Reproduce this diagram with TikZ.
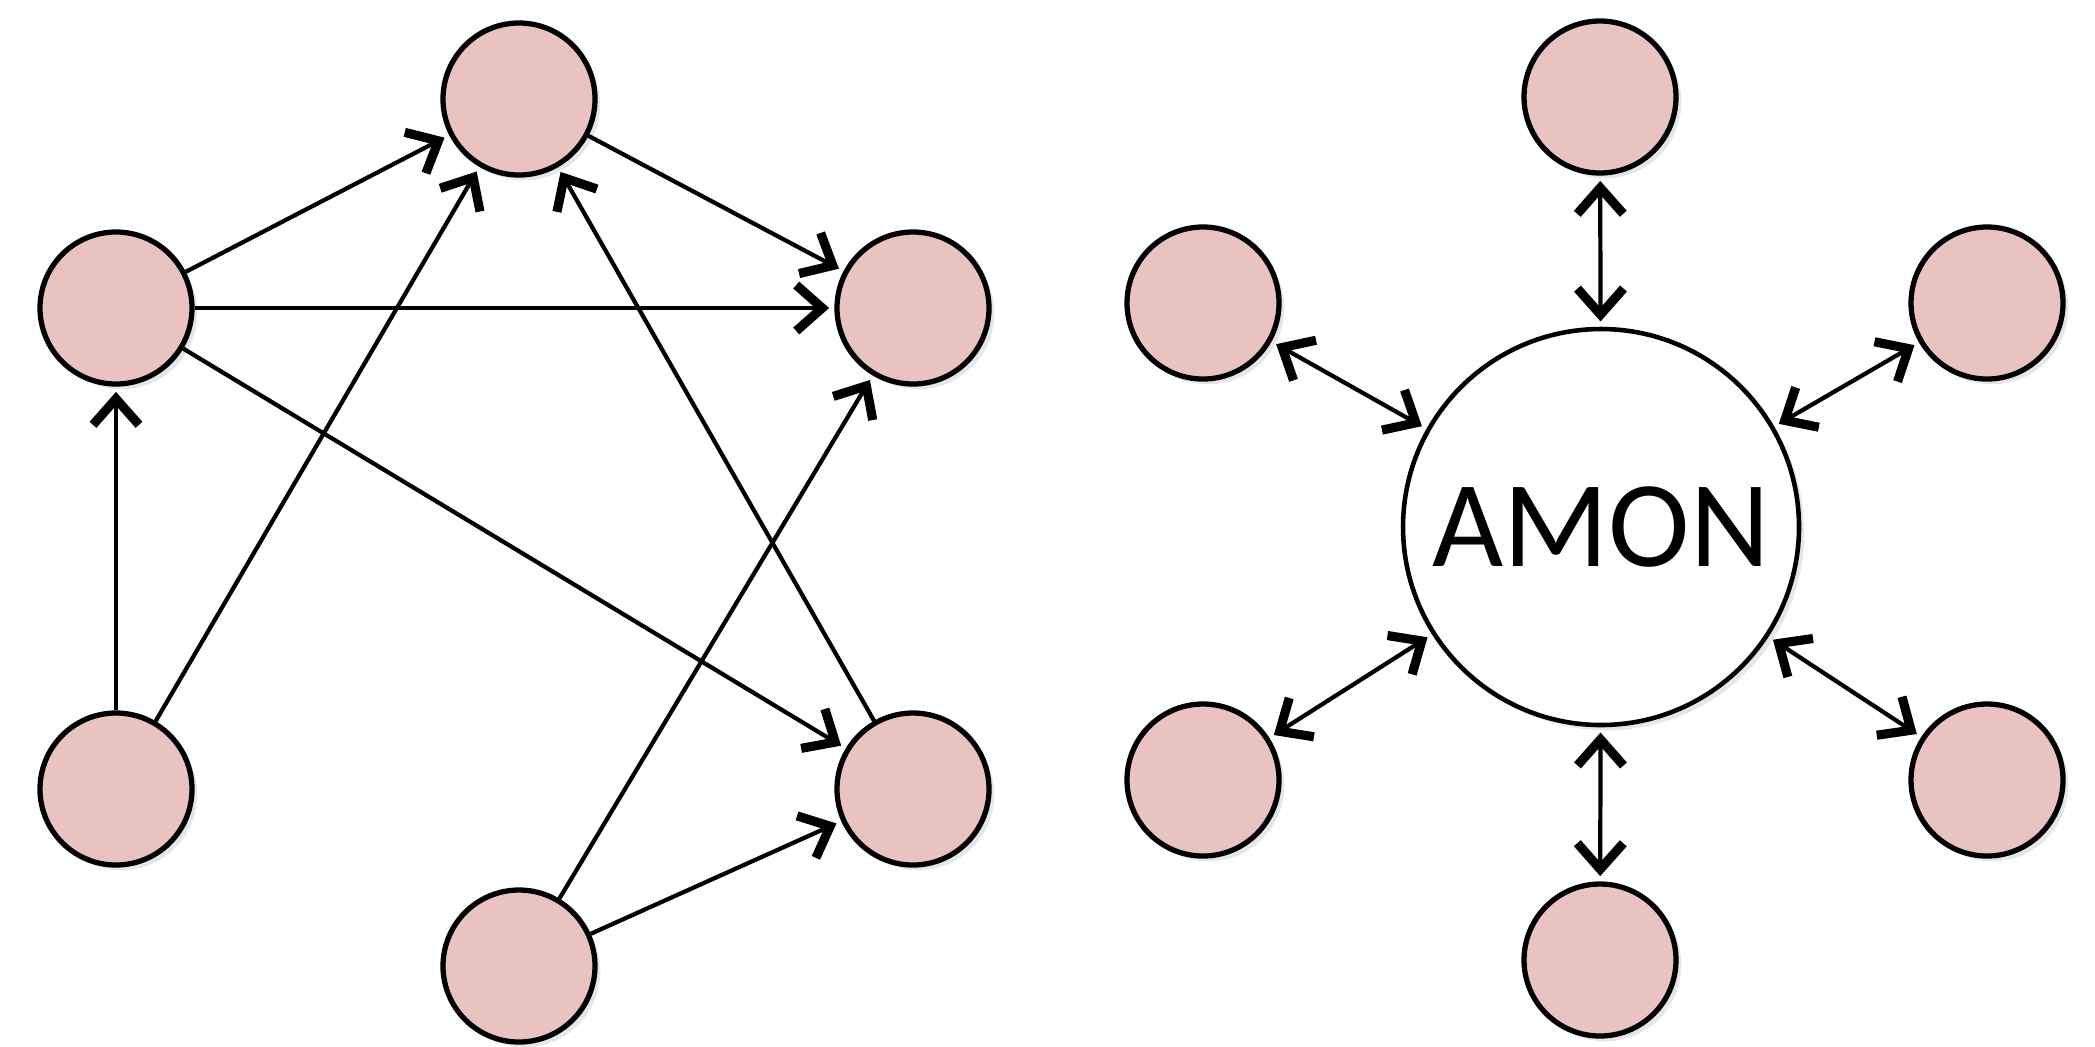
\documentclass[tikz,border=0pt]{standalone}
\usepackage{fontspec}
\setmainfont{Carlito}
\usetikzlibrary{arrows.meta,shadows}
\definecolor{agentpink}{RGB}{233,195,192}
\tikzset{
    agent/.style={circle, draw, line width=1.5pt, fill=agentpink, minimum size=1.52cm, inner sep=0pt,
        drop shadow={shadow xshift=1.5pt, shadow yshift=-1.5pt, opacity=0.2}},
    hub/.style={circle, draw, line width=1.3pt, fill=white, minimum size=3.96cm, inner sep=0pt,
        font=\fontsize{35}{40}\selectfont,
        drop shadow={shadow xshift=1.5pt, shadow yshift=-1.5pt, opacity=0.2}},
    link/.style={line width=1.2pt, -{Straight Barb[length=2.6mm, width=4.6mm, line width=2.6pt]}, shorten >=1.5pt},
    dlink/.style={line width=1.2pt, {Straight Barb[length=2.6mm, width=4.6mm, line width=2.6pt]}-{Straight Barb[length=2.6mm, width=4.6mm, line width=2.6pt]},
        shorten >=1.5pt, shorten <=1.5pt}
}
\begin{document}
\begin{tikzpicture}[x=0.1mm, y=-0.1mm]
    \useasboundingbox (0,0) rectangle (2095,1046);
    % left: everyone talks to everyone
    \foreach \name/\x/\y in {t/519/99, l/116/308, rt/913/308, bl/116/789, rb/913/789, bm/519/966}{
        \node[agent] (\name) at (\x,\y) {};
    }
    \draw[link] (l)--(t);
    \draw[link] (bl)--(l);
    \draw[link] (bl)--(t);
    \draw[link] (l)--(rt);
    \draw[link] (l)--(rb);
    \draw[link] (t)--(rt);
    \draw[link] (rb)--(t);
    \draw[link] (bm)--(rt);
    \draw[link] (bm)--(rb);
    % right: everyone talks to AMON
    \node[hub] (amon) at (1601,527) {AMON};
    \foreach \name/\x/\y in {n/1600/97, nw/1203/303, ne/1987/303, sw/1203/780, se/1987/780, s/1600/960}{
        \node[agent] (\name) at (\x,\y) {};
        \draw[dlink] (\name)--(amon);
    }
\end{tikzpicture}
\end{document}
